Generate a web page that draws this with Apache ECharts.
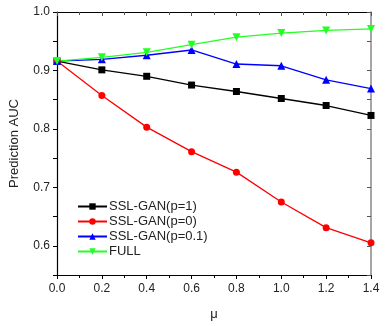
<!DOCTYPE html>
<html>
<head>
<meta charset="utf-8">
<script src="https://cdn.jsdelivr.net/npm/echarts@6/dist/echarts.min.js"></script>
<style>
  html, body { margin: 0; padding: 0; background: #fff; }
  #chart { width: 390px; height: 326px; }
</style>
</head>
<body>
<div id="chart"></div>
<script>
const mu = [0, 0.2, 0.4, 0.6, 0.8, 1.0, 1.2, 1.4]
const sslP1 = [0.916, 0.901, 0.890, 0.875, 0.864, 0.852, 0.840, 0.823]
const sslP0 = [0.916, 0.857, 0.803, 0.761, 0.726, 0.675, 0.631, 0.605]
const sslP01 = [0.916, 0.919, 0.926, 0.935, 0.911, 0.908, 0.884, 0.869]
const full = [0.916, 0.9225, 0.931, 0.944, 0.957, 0.964, 0.9685, 0.971]

const font = 'Liberation Sans, Arial, sans-serif'
const pts = (ys) => mu.map((x, i) => [x, ys[i]])

function lineSeries(name, ys, color, symbol, size, rotate) {
  return {
    name,
    type: 'line',
    data: pts(ys),
    symbol,
    symbolSize: size,
    symbolRotate: rotate || 0,
    lineStyle: { color, width: 1.3 },
    itemStyle: { color },
    emphasis: { disabled: true },
  }
}

const chart = echarts.init(document.getElementById('chart'))
chart.setOption({
  animation: false,
  grid: { left: 53, right: 19, top: 12, bottom: 47 },
  legend: {
    orient: 'vertical',
    left: 72,
    top: 195,
    itemWidth: 29,
    itemHeight: 8,
    itemGap: 2,
    textStyle: { fontFamily: font, fontSize: 13, color: '#222', padding: [0, 0, 0, -3] },
    data: ['SSL-GAN(p=1)', 'SSL-GAN(p=0)', 'SSL-GAN(p=0.1)', 'FULL'],
  },
  xAxis: [
    {
      type: 'value', min: 0, max: 1.4, interval: 0.2,
      name: 'μ', nameLocation: 'middle', nameGap: 33,
      nameTextStyle: { fontFamily: font, fontSize: 13, color: '#222' },
      axisLine: { lineStyle: { color: '#000', width: 1.2 } },
      axisTick: { inside: false, length: 4, lineStyle: { color: '#000' } },
      minorTick: { show: true, splitNumber: 2, length: 3, lineStyle: { color: '#000' } },
      axisLabel: { fontFamily: font, fontSize: 12, color: '#222', margin: 8, formatter: (v) => v.toFixed(1) },
      splitLine: { show: false },
    },
    {
      type: 'value', min: 0, max: 1.4, interval: 0.2, position: 'top',
      axisLine: { show: true, onZero: false, lineStyle: { color: '#000', width: 1.2 } },
      axisTick: { inside: true, length: 4, lineStyle: { color: '#555' } },
      minorTick: { show: true, splitNumber: 2, length: 3, lineStyle: { color: '#555' } },
      axisLabel: { show: false },
      splitLine: { show: false },
    },
  ],
  yAxis: [
    {
      type: 'value', min: 0.55, max: 1.0, interval: 0.05,
      name: 'Prediction AUC', nameLocation: 'middle', nameGap: 36,
      nameTextStyle: { fontFamily: font, fontSize: 13, color: '#222' },
      axisLine: { show: true, lineStyle: { color: '#000', width: 1.2 } },
      axisTick: { show: true, length: 4, lineStyle: { color: '#000' } },
      axisLabel: {
        fontFamily: font, fontSize: 12, color: '#222', margin: 7,
        formatter: (v) => (Math.round(v * 100) % 10 === 0 ? v.toFixed(1) : ''),
      },
      splitLine: { show: false },
    },
    {
      type: 'value', min: 0.55, max: 1.0, interval: 0.05, position: 'right',
      axisLine: { show: true, onZero: false, lineStyle: { color: '#888', width: 1.5 } },
      axisTick: { show: true, inside: true, length: 4, lineStyle: { color: '#555' } },
      axisLabel: { show: false },
      splitLine: { show: false },
    },
  ],
  series: [
    lineSeries('SSL-GAN(p=1)', sslP1, '#000000', 'rect', 7),
    lineSeries('SSL-GAN(p=0)', sslP0, '#ff0000', 'circle', 7),
    lineSeries('SSL-GAN(p=0.1)', sslP01, '#0000ff', 'triangle', 8),
    lineSeries('FULL', full, '#22ff22', 'triangle', 8, 180),
  ],
})
</script>
</body>
</html>
